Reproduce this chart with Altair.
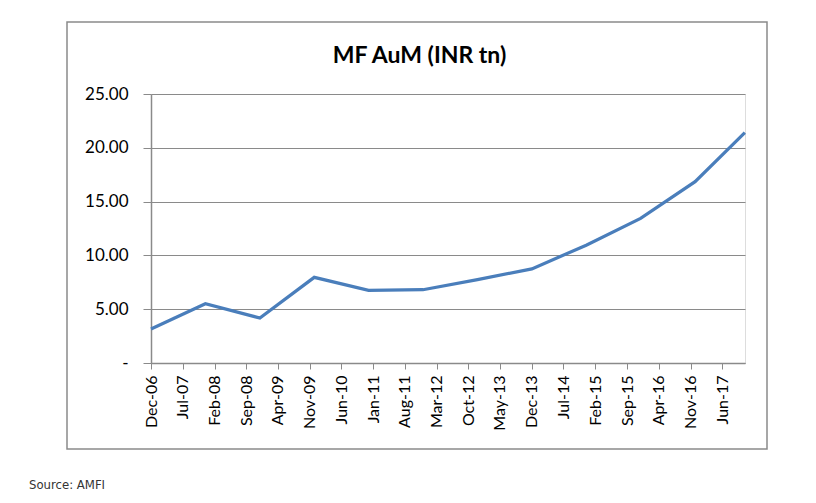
import altair as alt
import pandas as pd

# Data (INR trillion)
dates = ["2006-12-01", "2007-12-01", "2008-12-01", "2009-12-01", "2010-12-01",
         "2011-12-01", "2012-12-01", "2013-12-01", "2014-12-01", "2015-12-01",
         "2016-12-01", "2017-10-31"]
aum = [3.16, 5.51, 4.18, 7.96, 6.75, 6.81, 7.75, 8.75, 10.95, 13.44, 16.85, 21.42]

# Tick labels on the x axis (every 7 months)
tick_labels = ["Dec-06", "Jul-07", "Feb-08", "Sep-08", "Apr-09", "Nov-09", "Jun-10",
               "Jan-11", "Aug-11", "Mar-12", "Oct-12", "May-13", "Dec-13", "Jul-14",
               "Feb-15", "Sep-15", "Apr-16", "Nov-16", "Jun-17"]
month_num = {"Jan": 1, "Feb": 2, "Mar": 3, "Apr": 4, "May": 5, "Jun": 6, "Jul": 7,
             "Aug": 8, "Sep": 9, "Oct": 10, "Nov": 11, "Dec": 12}
tick_values = [alt.DateTime(year=2000 + int(t[4:]), month=month_num[t[:3]], date=1, utc=True)
               for t in tick_labels]
y_ticks = [0, 5, 10, 15, 20, 25]

title_text = "MF AuM (INR tn)"
source_text = "Source: AMFI"

df = pd.DataFrame({"date": dates, "aum": aum})

W, H = 594, 269
GRAY = "#8a8a8a"

base = alt.Chart(df)

line = base.mark_line(color="#4a7ebb", strokeWidth=3.2).encode(
    x=alt.X("date:T",
            scale=alt.Scale(type="utc",
                            domain=[alt.DateTime(year=2006, month=12, date=1, utc=True),
                                    alt.DateTime(year=2017, month=11, date=1, utc=True)]),
            axis=alt.Axis(title=None, values=tick_values,
                          labelExpr="utcFormat(datum.value, '%b-%y')",
                          labelAngle=270, labelFont="Lato", labelFontSize=16,
                          labelColor="#000000", labelPadding=6, tickSize=6,
                          tickColor=GRAY, domainColor=GRAY, domainWidth=1.5,
                          grid=False, labelOverlap=False, labelBound=False)),
    y=alt.Y("aum:Q",
            scale=alt.Scale(domain=[0, 25], nice=False),
            axis=alt.Axis(title=None, values=y_ticks,
                          labelExpr="datum.value == 0 ? '-\u00a0\u00a0' : format(datum.value, '.2f')",
                          labelFont="Lato", labelFontSize=17, labelColor="#000000",
                          labelPadding=15, tickSize=8, tickColor=GRAY,
                          domainColor=GRAY, domainWidth=1.5,
                          grid=True, gridColor=GRAY, gridWidth=1.2)),
)

frame = alt.Chart(pd.DataFrame({"k": [0]})).mark_rect(
    fill=None, stroke=GRAY, strokeWidth=1.5
).encode(
    x=alt.value(-84), x2=alt.value(616), y=alt.value(-72), y2=alt.value(355)
)

title = alt.Chart(pd.DataFrame({"t": [title_text]})).mark_text(
    font="Lato", fontSize=23, fontWeight="bold", color="#000000",
    align="center", baseline="alphabetic"
).encode(text="t:N", x=alt.value(268.5), y=alt.value(-31))

source = alt.Chart(pd.DataFrame({"t": [source_text]})).mark_text(
    font="DejaVu Sans Condensed, Liberation Sans", fontSize=13, color="#333333",
    align="left", baseline="alphabetic"
).encode(text="t:N", x=alt.value(-122), y=alt.value(395))

chart = alt.layer(frame, line, title, source).properties(
    width=W, height=H,
    autosize=alt.AutoSizeParams(type="none"),
    padding={"left": 143, "top": 86, "right": 63, "bottom": 132},
).configure_view(stroke=None).configure(background="white")

chart.save("out.html", embed_options={"renderer": "svg", "actions": False})
